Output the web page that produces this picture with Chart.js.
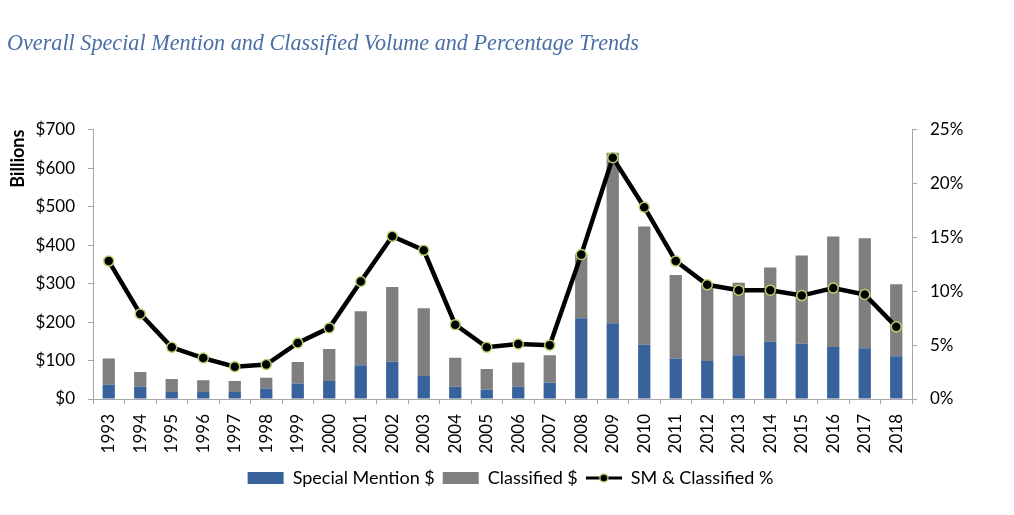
<!DOCTYPE html>
<html>
<head>
<meta charset="utf-8">
<script src="https://cdn.jsdelivr.net/npm/chart.js@4"></script>
<style>
  body { margin: 0; background: #fff; }
  #wrap { width: 1014px; height: 515px; }
</style>
</head>
<body>
<div id="wrap"><canvas id="chart"></canvas></div>
<script>
var years = ['1993', '1994', '1995', '1996', '1997', '1998', '1999', '2000', '2001', '2002',
    '2003', '2004', '2005', '2006', '2007', '2008', '2009', '2010', '2011', '2012',
    '2013', '2014', '2015', '2016', '2017', '2018'];

// billions of dollars
var specialMention = [37, 32, 18, 18, 18, 27, 40, 47, 88, 97,
    60, 32, 24, 32, 42, 210, 197, 141, 105, 99,
    114, 149, 144, 135, 132, 111];
var classified = [68, 38, 34, 31, 29, 28, 56, 83, 140, 194,
    176, 75, 54, 63, 72, 167, 443, 307, 217, 199,
    188, 193, 229, 287, 286, 187];

// percent
var smClassifiedPct = [12.8, 7.9, 4.8, 3.8, 3.0, 3.2, 5.2, 6.6, 10.9, 15.1,
    13.8, 6.9, 4.8, 5.1, 5.0, 13.4, 22.4, 17.8, 12.8, 10.6,
    10.1, 10.1, 9.6, 10.3, 9.7, 6.7];

var dollarTicks = [0, 100, 200, 300, 400, 500, 600, 700];
var pctTicks = [0, 5, 10, 15, 20, 25];

var axisGrey = '#a6a6a6';
var labelFont = { family: 'Lato', size: 17 };

// little legend icon: line with a dot
var lineIcon = document.createElement('canvas');
lineIcon.width = 36;
lineIcon.height = 12;
(function () {
    var c = lineIcon.getContext('2d');
    c.strokeStyle = '#000';
    c.lineWidth = 3;
    c.beginPath();
    c.moveTo(0, 6);
    c.lineTo(36, 6);
    c.stroke();
    c.beginPath();
    c.arc(18, 6, 4, 0, Math.PI * 2);
    c.fillStyle = '#000';
    c.fill();
    c.lineWidth = 1.5;
    c.strokeStyle = '#b5d36b';
    c.stroke();
})();

var chart = new Chart(
    document.getElementById('chart'),
    {
        type: 'bar',
        data: {
            labels: years,
            datasets: [{
                label: 'Special Mention $',
                data: specialMention,
                backgroundColor: '#38629b',
                borderWidth: 0,
                categoryPercentage: 1,
                barPercentage: 0.39,
                yAxisID: 'y',
                order: 1
            }, {
                label: 'Classified $',
                data: classified,
                backgroundColor: '#7f7f7f',
                borderWidth: 0,
                categoryPercentage: 1,
                barPercentage: 0.39,
                yAxisID: 'y',
                order: 1
            }, {
                type: 'line',
                label: 'SM & Classified %',
                data: smClassifiedPct,
                borderColor: '#000',
                borderWidth: 4.5,
                backgroundColor: '#000',
                pointBackgroundColor: '#000',
                pointBorderColor: '#b5d36b',
                pointBorderWidth: 1.5,
                pointRadius: 5,
                lineTension: 0,
                fill: false,
                yAxisID: 'y1',
                order: 0
            }]
        },
        options: {
            responsive: true,
            maintainAspectRatio: false,
            animation: false,
            layout: { padding: { left: 7, right: 0, top: 0, bottom: 18 } },
            plugins: {
                tooltip: { enabled: false },
                title: {
                    display: true,
                    text: 'Overall Special Mention and Classified Volume and Percentage Trends',
                    align: 'start',
                    color: '#4a6ea6',
                    font: { family: 'Liberation Serif', style: 'italic', weight: 'normal', size: 22.2 },
                    padding: { top: 31, bottom: 72 }
                },
                legend: {
                    position: 'bottom',
                    labels: {
                        color: '#000',
                        font: { family: 'Lato', size: 18 },
                        usePointStyle: true,
                        pointStyleWidth: 36,
                        boxHeight: 12,
                        padding: 8,
                        generateLabels: function (c) {
                            var items = Chart.defaults.plugins.legend.labels.generateLabels(c);
                            items.sort(function (a, b) { return a.datasetIndex - b.datasetIndex; });
                            items.forEach(function (it) {
                                it.lineWidth = 0;
                                it.pointStyle = it.datasetIndex === 2 ? lineIcon : 'rect';
                            });
                            return items;
                        }
                    }
                }
            },
            scales: {
                x: {
                    stacked: true,
                    grid: {
                        display: true,
                        drawOnChartArea: false,
                        color: axisGrey,
                        tickLength: 5
                    },
                    border: { color: axisGrey, width: 1 },
                    ticks: {
                        color: '#000',
                        font: labelFont,
                        minRotation: 90,
                        maxRotation: 90,
                        padding: 10
                    },
                    afterFit: function (s) { s.height = 62; }
                },
                y: {
                    position: 'left',
                    stacked: true,
                    min: 0,
                    max: 700,
                    afterBuildTicks: function (s) {
                        s.ticks = dollarTicks.map(function (v) { return { value: v }; });
                    },
                    grid: {
                        display: true,
                        drawOnChartArea: false,
                        color: axisGrey,
                        tickLength: 5
                    },
                    border: { color: axisGrey, width: 1 },
                    ticks: {
                        color: '#000',
                        font: labelFont,
                        padding: 13,
                        callback: function (v) { return '$' + v; }
                    },
                    title: {
                        display: true,
                        text: 'Billions',
                        align: 'end',
                        color: '#000',
                        font: { family: 'Lato', size: 18, weight: 'bold' },
                        padding: { top: 0, bottom: 0 }
                    },
                    afterFit: function (s) { s.width = 86; }
                },
                y1: {
                    position: 'right',
                    min: 0,
                    max: 25,
                    afterBuildTicks: function (s) {
                        s.ticks = pctTicks.map(function (v) { return { value: v }; });
                    },
                    grid: {
                        display: true,
                        drawOnChartArea: false,
                        color: axisGrey,
                        tickLength: 5
                    },
                    border: { color: axisGrey, width: 1 },
                    ticks: {
                        color: '#000',
                        font: labelFont,
                        padding: 13,
                        callback: function (v) { return v + '%'; }
                    },
                    afterFit: function (s) { s.width = 102; }
                }
            }
        }
    }
);
</script>
</body>
</html>
